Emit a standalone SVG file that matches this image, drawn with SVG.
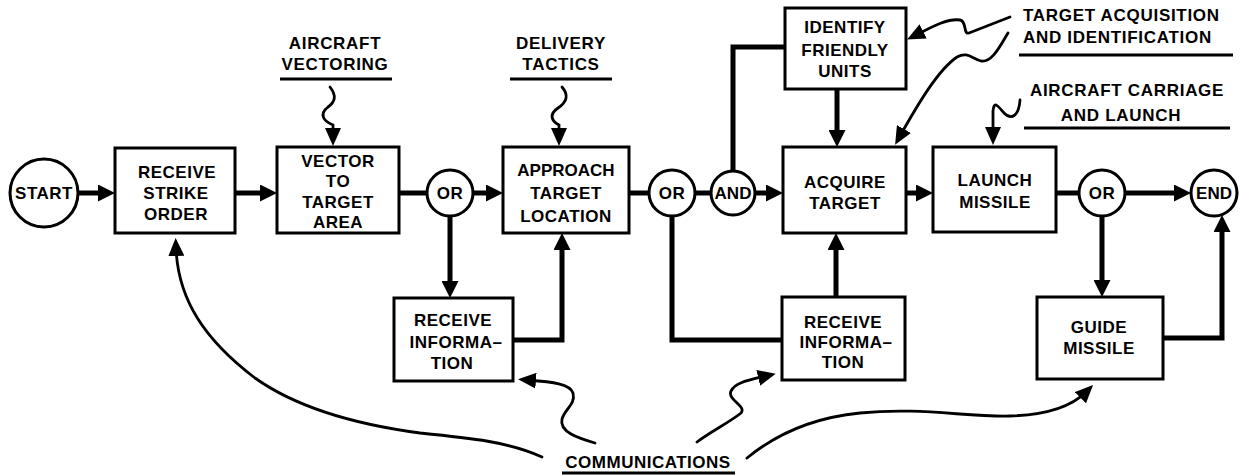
<svg xmlns="http://www.w3.org/2000/svg" width="1246" height="475" viewBox="0 0 1246 475">
  <style>
    .box { fill: #fff; stroke: #000; stroke-width: 3; }
    .gate { fill: #fff; stroke: #000; stroke-width: 3; }
    .t { font-family: "Liberation Sans", Arial, Helvetica, sans-serif; font-weight: bold; font-size: 17px; fill: #000; text-anchor: middle; letter-spacing: 0.5px; }
    .lbl { font-family: "Liberation Sans", Arial, Helvetica, sans-serif; font-weight: bold; font-size: 17px; fill: #000; letter-spacing: 0.7px; }
    .flow { fill: none; stroke: #000; stroke-width: 5; stroke-linejoin: miter; }
    .wave { fill: none; stroke: #000; stroke-width: 2.8; stroke-linecap: round; }
    .rule { stroke: #000; stroke-width: 3; }
  </style>
  <defs>
    <marker id="head" viewBox="0 0 17 17" refX="7" refY="8.5" markerWidth="17" markerHeight="17" markerUnits="userSpaceOnUse" orient="auto">
      <path d="M0,0 L17,8.5 L0,17 z" fill="#000"/>
    </marker>
    <marker id="headThin" viewBox="0 0 18 16" refX="8" refY="8" markerWidth="18" markerHeight="16" markerUnits="userSpaceOnUse" orient="auto">
      <path d="M0,0 L18,8 L0,16 z" fill="#000"/>
    </marker>
  </defs>

  <!-- flow connectors -->
  <g id="connectors">
    <path class="flow" d="M78,193 H105" marker-end="url(#head)"/>
    <path class="flow" d="M235,193 H267" marker-end="url(#head)"/>
    <path class="flow" d="M399,193 H427"/>
    <path class="flow" d="M473,193 H493" marker-end="url(#head)"/>
    <path class="flow" d="M450,216 V288" marker-end="url(#head)"/>
    <path class="flow" d="M513,340 H562 V243" marker-end="url(#head)"/>
    <path class="flow" d="M629,193 H649"/>
    <path class="flow" d="M695,193 H711"/>
    <path class="flow" d="M755,193 H773" marker-end="url(#head)"/>
    <path class="flow" d="M733,171 V47 H785"/>
    <path class="flow" d="M837,89 V137" marker-end="url(#head)"/>
    <path class="flow" d="M672,216 V340 H782"/>
    <path class="flow" d="M836,297 V243" marker-end="url(#head)"/>
    <path class="flow" d="M906,193 H923" marker-end="url(#head)"/>
    <path class="flow" d="M1056,193 H1079"/>
    <path class="flow" d="M1125,193 H1181" marker-end="url(#head)"/>
    <path class="flow" d="M1102,216 V287" marker-end="url(#head)"/>
    <path class="flow" d="M1163,338 H1222 V225" marker-end="url(#head)"/>

    <!-- wavy input arrows -->
    <path class="wave" d="M330,87 C337,96 335,102 328,107 C319,114 323,121 333,125 L333,136" marker-end="url(#headThin)"/>
    <path class="wave" d="M562,87 C569,95 567,102 558,108 C549,114 551,121 559,125 L559,136" marker-end="url(#headThin)"/>
    <path class="wave" d="M1010,17 L969,33 C963,35 967,21 960,20 C947,18 930,28 916,35" marker-end="url(#headThin)"/>
    <path class="wave" d="M1008,33 C1000,46 992,63 981,61 C972,59 968,51 957,57 C938,70 918,104 900,136" marker-end="url(#headThin)"/>
    <path class="wave" d="M1020,100 C1019,115 1012,121 1004,113 C998,106 994,100 993,111 L993,135" marker-end="url(#headThin)"/>
    <path class="wave" d="M542,457 C510,442 470,438 420,433 C360,425 300,410 255,378 C205,340 178,300 176,248" marker-end="url(#headThin)"/>
    <path class="wave" d="M595,443 C578,438 559,432 562,419 C565,409 576,404 573,393 C570,384 553,382 528,380" marker-end="url(#headThin)"/>
    <path class="wave" d="M697,442 C710,432 730,422 741,413 C747,406 727,400 731,391 C735,383 745,381 766,376" marker-end="url(#headThin)"/>
    <path class="wave" d="M747,458 C775,435 810,418 860,413 C920,407 965,417 1010,416 C1045,415 1070,408 1086,392" marker-end="url(#headThin)"/>
  </g>

  <!-- nodes -->
  <g id="start">
    <circle class="gate" cx="44" cy="193" r="34"/>
    <text class="t" x="44" y="199">START</text>
  </g>
  <g id="receive-strike-order">
    <rect class="box" x="115" y="148" width="120" height="85"/>
    <text class="t" x="177" y="178">RECEIVE</text>
    <text class="t" x="176" y="199">STRIKE</text>
    <text class="t" x="176" y="220">ORDER</text>
  </g>
  <g id="vector-to-target-area">
    <rect class="box" x="277" y="147" width="122" height="86"/>
    <text class="t" x="338" y="167">VECTOR</text>
    <text class="t" x="338" y="187">TO</text>
    <text class="t" x="338" y="208">TARGET</text>
    <text class="t" x="338" y="228">AREA</text>
  </g>
  <g id="or-1">
    <circle class="gate" cx="450" cy="193" r="23"/>
    <text class="t" x="450" y="199">OR</text>
  </g>
  <g id="approach-target-location">
    <rect class="box" x="503" y="147" width="126" height="86"/>
    <text class="t" x="566" y="176" style="letter-spacing:0">APPROACH</text>
    <text class="t" x="566" y="199">TARGET</text>
    <text class="t" x="566" y="222">LOCATION</text>
  </g>
  <g id="receive-information-1">
    <rect class="box" x="394" y="298" width="119" height="83"/>
    <text class="t" x="453" y="326">RECEIVE</text>
    <text class="t" x="456" y="348">INFORMA–</text>
    <text class="t" x="452" y="369">TION</text>
  </g>
  <g id="or-2">
    <circle class="gate" cx="672" cy="193" r="23"/>
    <text class="t" x="672" y="199">OR</text>
  </g>
  <g id="and">
    <circle class="gate" cx="733" cy="193" r="22"/>
    <text class="t" x="733" y="199" style="letter-spacing:0">AND</text>
  </g>
  <g id="identify-friendly-units">
    <rect class="box" x="785" y="8" width="121" height="81"/>
    <text class="t" x="845" y="33">IDENTIFY</text>
    <text class="t" x="845" y="56">FRIENDLY</text>
    <text class="t" x="845" y="77">UNITS</text>
  </g>
  <g id="acquire-target">
    <rect class="box" x="783" y="147" width="123" height="86"/>
    <text class="t" x="845" y="188">ACQUIRE</text>
    <text class="t" x="845" y="209">TARGET</text>
  </g>
  <g id="receive-information-2">
    <rect class="box" x="782" y="297" width="123" height="83"/>
    <text class="t" x="843" y="328">RECEIVE</text>
    <text class="t" x="846" y="348">INFORMA–</text>
    <text class="t" x="843" y="368">TION</text>
  </g>
  <g id="launch-missile">
    <rect class="box" x="933" y="147" width="123" height="85"/>
    <text class="t" x="995" y="186">LAUNCH</text>
    <text class="t" x="995" y="208">MISSILE</text>
  </g>
  <g id="or-3">
    <circle class="gate" cx="1102" cy="193" r="23"/>
    <text class="t" x="1102" y="199">OR</text>
  </g>
  <g id="end">
    <circle class="gate" cx="1214" cy="193" r="23"/>
    <text class="t" x="1214" y="199" style="letter-spacing:0">END</text>
  </g>
  <g id="guide-missile">
    <rect class="box" x="1037" y="297" width="126" height="82"/>
    <text class="t" x="1099" y="333">GUIDE</text>
    <text class="t" x="1099" y="354">MISSILE</text>
  </g>

  <!-- external inputs -->
  <g id="aircraft-vectoring">
    <text class="t" x="335" y="49" style="letter-spacing:0.7px">AIRCRAFT</text>
    <text class="t" x="335" y="70" style="letter-spacing:0.7px">VECTORING</text>
    <line class="rule" x1="280" y1="79" x2="392" y2="79"/>
  </g>
  <g id="delivery-tactics">
    <text class="t" x="561" y="49" style="letter-spacing:0.7px">DELIVERY</text>
    <text class="t" x="561" y="70" style="letter-spacing:0.7px">TACTICS</text>
    <line class="rule" x1="510" y1="79" x2="612" y2="79"/>
  </g>
  <g id="target-acquisition">
    <text class="lbl" x="1023" y="21">TARGET ACQUISITION</text>
    <text class="lbl" x="1023" y="43">AND IDENTIFICATION</text>
    <line class="rule" x1="1019" y1="55" x2="1233" y2="55"/>
  </g>
  <g id="aircraft-carriage">
    <text class="t" x="1127" y="96" style="letter-spacing:0.7px">AIRCRAFT CARRIAGE</text>
    <text class="t" x="1121" y="121" style="letter-spacing:0.7px">AND LAUNCH</text>
    <line class="rule" x1="1024" y1="128" x2="1230" y2="128"/>
  </g>
  <g id="communications">
    <text class="t" x="648" y="468" style="letter-spacing:0.5px">COMMUNICATIONS</text>
    <line class="rule" x1="562" y1="473" x2="735" y2="473"/>
  </g>
</svg>
